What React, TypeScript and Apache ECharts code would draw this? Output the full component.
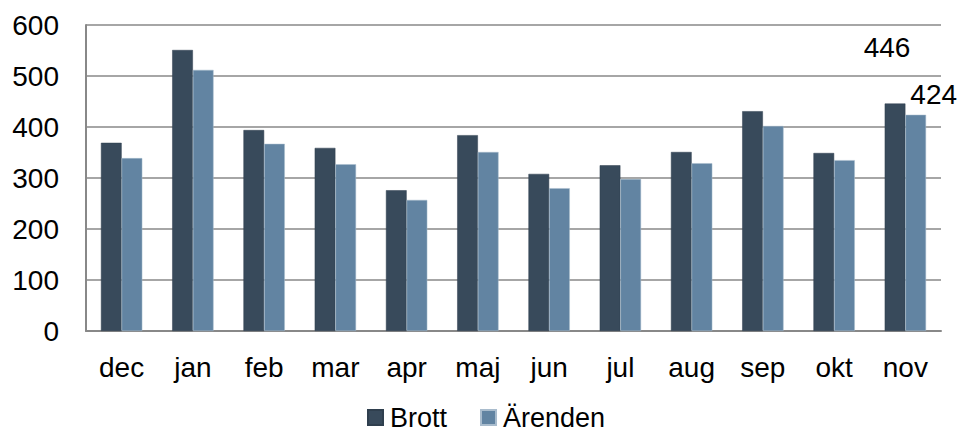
import React, { useEffect, useRef } from "react";
import * as echarts from "echarts";

const categories = ["dec", "jan", "feb", "mar", "apr", "maj", "jun", "jul", "aug", "sep", "okt", "nov"];
const brott = [369, 551, 394, 359, 276, 384, 308, 325, 351, 431, 349, 446];
const arenden = [339, 512, 367, 327, 257, 351, 280, 298, 329, 402, 335, 424];
const yTicks = [0, 100, 200, 300, 400, 500, 600];

const FONT = "'Liberation Sans', Arial, sans-serif";
const FS = 28;

export default function App() {
  const ref = useRef<HTMLDivElement>(null);
  useEffect(() => {
    if (!ref.current) return;
    const chart = echarts.init(ref.current, undefined, { renderer: "svg" });
    const last = categories.length - 1;
    chart.setOption({
      animation: false,
      textStyle: { fontFamily: FONT },
      grid: { left: 86, right: 18, top: 25, bottom: 102, containLabel: false },
      legend: {
        top: 404,
        left: 367,
        padding: 0,
        itemWidth: 15,
        itemHeight: 15,
        itemGap: 33,
        icon: "rect",
        textStyle: { fontSize: 27, lineHeight: 26, color: "#000", fontFamily: FONT, padding: [0, 0, 0, 2] },
        data: ["Brott", "Ärenden"],
      },
      xAxis: {
        type: "category",
        data: categories,
        axisLine: { lineStyle: { color: "#888", width: 2 } },
        axisTick: { show: false },
        axisLabel: { fontSize: FS, color: "#000", margin: 22, fontFamily: FONT },
      },
      yAxis: {
        type: "value",
        min: yTicks[0],
        max: yTicks[yTicks.length - 1],
        interval: 100,
        axisLine: { show: true, lineStyle: { color: "#888", width: 2 } },
        axisTick: { show: false },
        splitLine: { lineStyle: { color: "#888", width: 1.5 } },
        axisLabel: { fontSize: FS, color: "#000", margin: 27, fontFamily: FONT },
      },
      series: [
        {
          name: "Brott",
          type: "bar",
          data: brott.map((v, i) =>
            i === last
              ? { value: v, label: { show: true, position: "top", offset: [-8, -37], fontSize: FS, color: "#000", fontFamily: FONT } }
              : v
          ),
          barGap: "0%",
          barCategoryGap: "42%",
          itemStyle: { color: "#384a5b", borderColor: "#2f3f4e", borderWidth: 0.5 },
        },
        {
          name: "Ärenden",
          type: "bar",
          data: arenden.map((v, i) =>
            i === last
              ? { value: v, label: { show: true, position: "top", offset: [18, -1], fontSize: FS, color: "#000", fontFamily: FONT } }
              : v
          ),
          barGap: "0%",
          barCategoryGap: "42%",
          itemStyle: { color: "#6284a2", borderColor: "#a9bccd", borderWidth: 0.5 },
        },
      ],
    });
    return () => chart.dispose();
  }, []);
  return <div ref={ref} style={{ position: "absolute", left: 0, top: 0, width: 959, height: 433 }} />;
}
